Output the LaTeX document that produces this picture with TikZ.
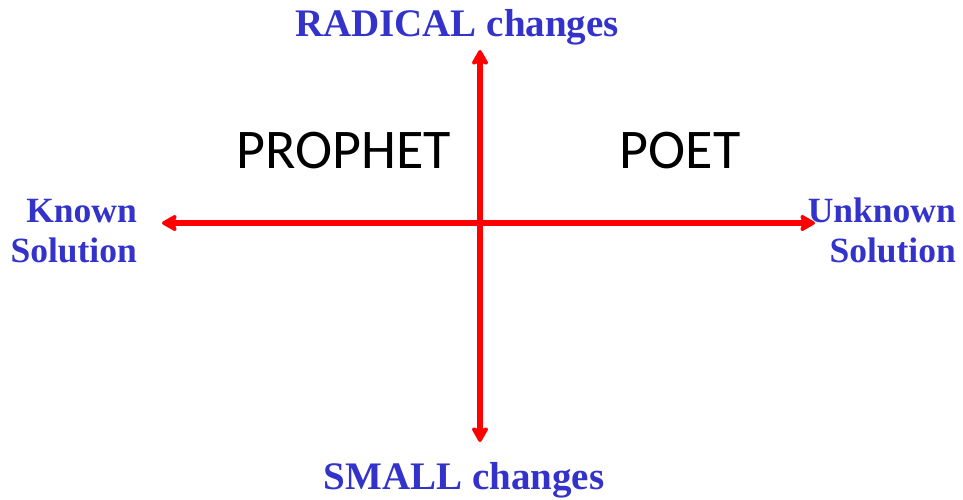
\documentclass[tikz,border=0pt]{standalone}
\usepackage{fontspec}
\setmainfont{Liberation Serif}
\newfontfamily\calib{Carlito}
\usetikzlibrary{arrows.meta}
\definecolor{axisred}{HTML}{FF0000}
\definecolor{labelblue}{HTML}{3333CC}
\begin{document}
\begin{tikzpicture}[x=1pt,y=-1pt,
  axis/.style={draw=axisred, line width=6pt,
    {Stealth[length=18pt,width=20pt,inset=4pt,round]}-{Stealth[length=18pt,width=20pt,inset=4pt,round]}},
  bluelabel/.style={text=labelblue, font=\fontsize{39}{42}\selectfont\bfseries, inner sep=0pt},
  sidelabel/.style={text=labelblue, font=\fontsize{35.5}{40}\selectfont\bfseries, inner sep=0pt, anchor=base east},
  quadlabel/.style={text=black, font=\calib\fontsize{56}{60}\selectfont, inner sep=0pt, anchor=base}]
\useasboundingbox (0,0) rectangle (963,500);
\coordinate (top) at (480,50);
\coordinate (bottom) at (480,442);
\coordinate (left) at (162,223);
\coordinate (right) at (815,223);
\draw[axis] (top) -- (bottom);
\draw[axis] (left) -- (right);
\node[bluelabel, anchor=base] (radical) at (457,37) {RADICAL changes};
\node[bluelabel, anchor=base] (small) at (464,489) {SMALL changes};
\node[sidelabel] (known) at (137,222) {Known};
\node[sidelabel] (knownsol) at (137,262) {Solution};
\node[sidelabel] (unknown) at (956,222) {Unknown};
\node[sidelabel] (unknownsol) at (956,262) {Solution};
\node[quadlabel] (prophet) at (344,168) {PROPHET};
\node[quadlabel] (poet) at (680,168) {POET};
\end{tikzpicture}
\end{document}
